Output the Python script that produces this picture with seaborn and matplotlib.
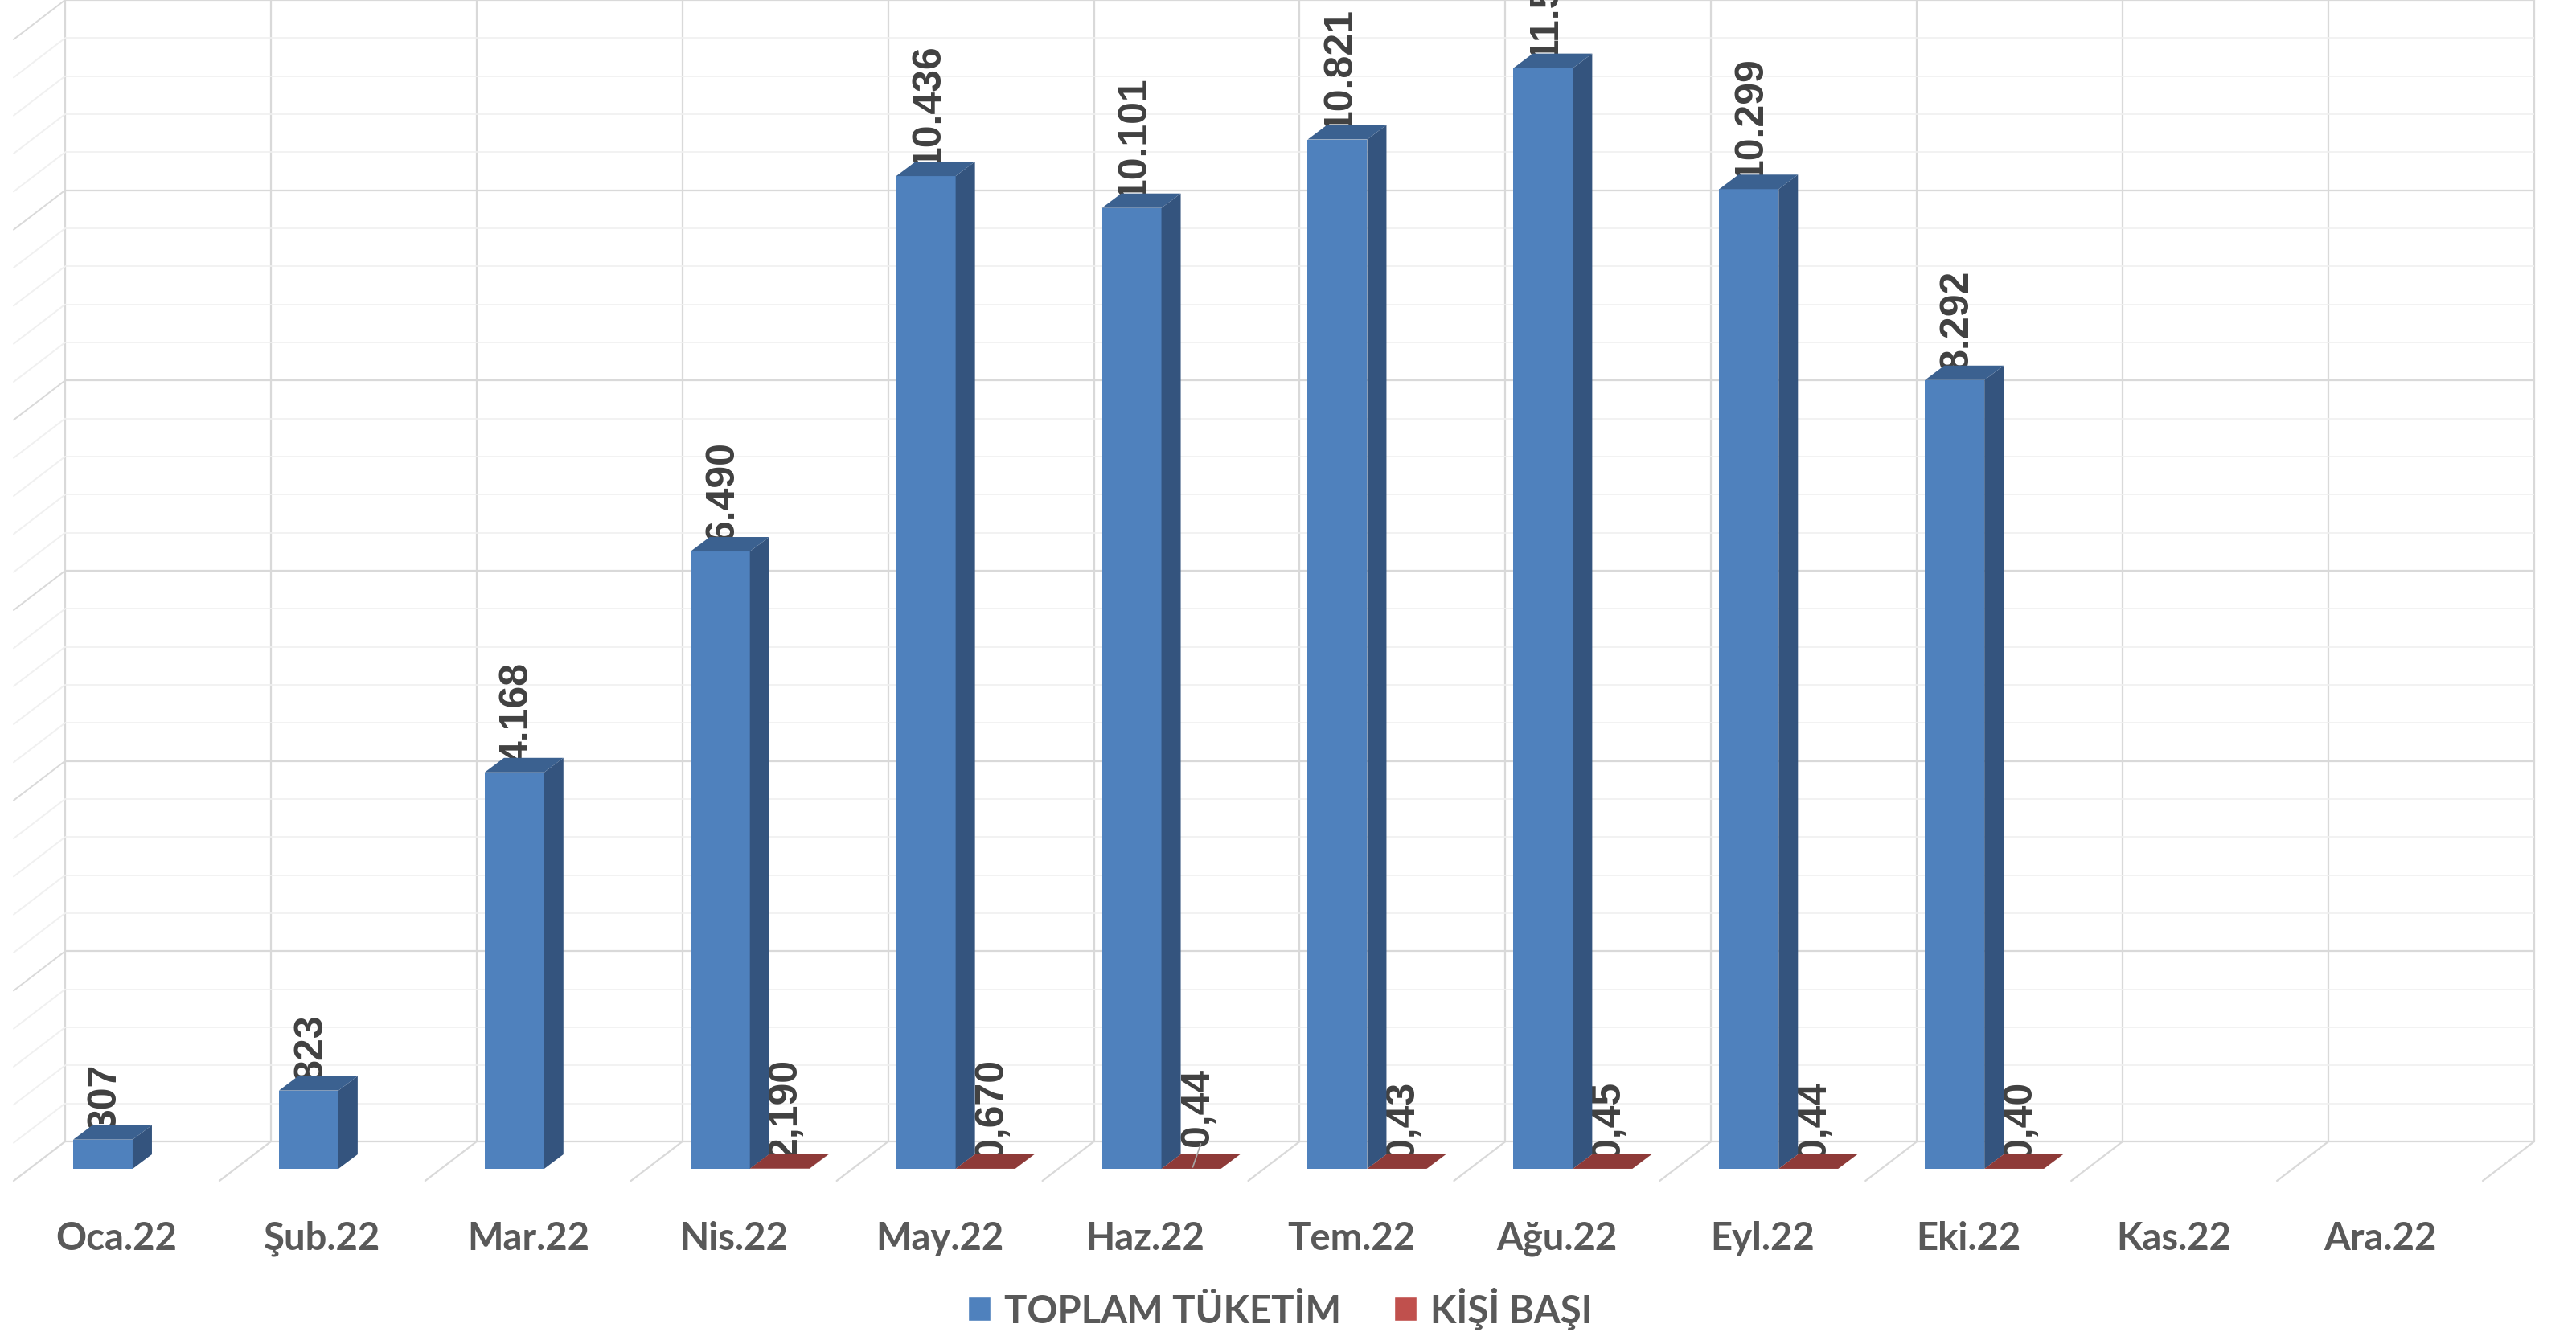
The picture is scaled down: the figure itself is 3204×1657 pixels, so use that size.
import matplotlib
matplotlib.use("Agg")
import matplotlib.pyplot as plt
from matplotlib.lines import Line2D
from matplotlib.patches import Polygon, Patch
from matplotlib.transforms import IdentityTransform, offset_copy
import seaborn as sns
import pandas as pd
import numpy as np

# === Data ===
months = ["Oca.22", "Şub.22", "Mar.22", "Nis.22", "May.22", "Haz.22",
          "Tem.22", "Ağu.22", "Eyl.22", "Eki.22", "Kas.22", "Ara.22"]
series = ["TOPLAM TÜKETİM", "KİŞİ BAŞI"]
toplam = [307, 823, 4168, 6490, 10436, 10101, 10821, 11572, 10299, 8292, np.nan, np.nan]
toplam_labels = ["307", "823", "4.168", "6.490", "10.436", "10.101",
                 "10.821", "11.572", "10.299", "8.292", "", ""]
kisi = [np.nan, np.nan, np.nan, 2.19, 0.67, 0.44, 0.43, 0.45, 0.44, 0.40, np.nan, np.nan]
kisi_labels = ["", "", "", "2,190", "0,670", "0,44", "0,43", "0,45", "0,44", "0,40", "", ""]

df = pd.DataFrame({
    "month": months * 2,
    "series": [series[0]] * 12 + [series[1]] * 12,
    "value": toplam + kisi,
}).dropna()

# === Style ===
sns.set_theme(style="white")
plt.rcParams["font.family"] = ["Lato", "DejaVu Sans"]

blue, red = "#4F81BD", "#C0504D"
side_colors = ["#34547E", "#7A2E2C"]
top_colors = ["#3B6190", "#8E3A38"]
grid_major, grid_minor = "#D9D9D9", "#F0F0F0"
W, H = 3204, 1658

fig = plt.figure(figsize=(W / 100, H / 100), dpi=100)

# === Back wall with gridlines ===
ax_back = fig.add_axes([81 / W, 237 / H, 3071 / W, 1420 / H])
ax_back.set_xlim(-0.5, 11.5)
ax_back.set_ylim(0, 12000)
ax_back.set_xticks(np.arange(-0.5, 12, 1))
ax_back.set_yticks(np.arange(0, 12001, 2000))
ax_back.set_yticks(np.arange(0, 12001, 400), minor=True)
ax_back.grid(True, which="major", color=grid_major, lw=1.6)
ax_back.grid(True, which="minor", axis="y", color=grid_minor, lw=1.2)
ax_back.tick_params(which="both", length=0, labelbottom=False, labelleft=False)
sns.despine(ax=ax_back, left=True, bottom=True)
ax_back.patch.set_visible(False)
for gl in ax_back.get_xgridlines() + ax_back.get_ygridlines():
    gl.set_clip_on(False)

# floor and side wall lines going to the front
floor_dx, floor_dy = -64, -49


def diag(x, y, color, lw):
    px, py = ax_back.transData.transform((x, y))
    ax_back.add_line(Line2D([px, px + floor_dx], [py, py + floor_dy],
                            transform=IdentityTransform(), color=color,
                            lw=lw, clip_on=False))


for k in np.arange(-0.5, 12, 1):
    diag(k, 0, grid_major, 1.6)
for v in np.arange(400, 12001, 400):
    diag(-0.5, v, grid_major if v % 2000 == 0 else grid_minor, 1.4)

# === Bars ===
ax_bar = fig.add_axes([37 / W, 203 / H, 3071 / W, 1420 / H])
ax_bar.patch.set_visible(False)
sns.barplot(data=df, x="month", y="value", hue="series", order=months,
            hue_order=series, palette=[blue, red], saturation=1,
            width=0.578, dodge=True, errorbar=None, linewidth=0,
            legend=False, ax=ax_bar)
ax_bar.set_xlim(-0.5, 11.5)
ax_bar.set_ylim(0, 12000)
ax_bar.set_xlabel("")
ax_bar.set_ylabel("")
ax_bar.set_xticks([])
ax_bar.set_yticks([])
sns.despine(ax=ax_bar, left=True, bottom=True)

# 3D side and top faces
depth_dx, depth_dy = 24, 18
for cont, sc, tc in zip(ax_bar.containers, side_colors, top_colors):
    for bar in cont:
        h = bar.get_height()
        if not np.isfinite(h):
            continue
        x0, y0 = ax_bar.transData.transform((bar.get_x(), 0))
        x1, y1 = ax_bar.transData.transform((bar.get_x() + bar.get_width(), h))
        side = Polygon([(x1, y0), (x1 + depth_dx, y0 + depth_dy),
                        (x1 + depth_dx, y1 + depth_dy), (x1, y1)],
                       closed=True, transform=IdentityTransform(),
                       facecolor=sc, lw=0, zorder=3, clip_on=False)
        top = Polygon([(x0, y1), (x1, y1), (x1 + depth_dx, y1 + depth_dy),
                       (x0 + depth_dx, y1 + depth_dy)],
                      closed=True, transform=IdentityTransform(),
                      facecolor=tc, lw=0, zorder=3, clip_on=False)
        ax_bar.add_patch(side)
        ax_bar.add_patch(top)

# value labels (drawn behind the bars, slightly hidden by the top face)
label_lift = {"Haz.22": 16}   # this one was dragged up in the original, with a leader line
for n, (cont, labels, xoff) in enumerate(zip(ax_bar.containers,
                                             [toplam_labels, kisi_labels], [3, 8])):
    for bar in cont:
        h = bar.get_height()
        if not np.isfinite(h):
            continue
        xc = bar.get_x() + bar.get_width() / 2
        i = int(round(xc))
        lift = label_lift.get(months[i], 0) if n == 1 else 0
        tr = offset_copy(ax_bar.transData, fig=fig, x=xoff, y=13 + lift, units="dots")
        ax_bar.text(xc, h, labels[i], transform=tr, rotation=90, ha="center",
                    va="bottom", fontsize=36, fontweight="bold", color="#404040",
                    family="Liberation Sans", zorder=0.5, clip_on=False)
        if lift:
            px, py = ax_bar.transData.transform((xc, h))
            ax_bar.add_line(Line2D([px + 2, px + xoff + 4], [py + 2, py + 15 + lift],
                                   transform=IdentityTransform(), color="#A6A6A6",
                                   lw=1.2, zorder=4, clip_on=False))

# month labels at the front edge of the floor
tick_tr = offset_copy(ax_bar.transData, fig=fig, x=-20, y=-100, units="dots")
for i, m in enumerate(months):
    ax_bar.text(i, 0, m, transform=tick_tr, ha="center", va="baseline",
                fontsize=34, fontweight="bold", color="#595959", clip_on=False)

# === Legend ===
handles = [Patch(facecolor=blue), Patch(facecolor=red)]
fig.legend(handles, series, loc="center", bbox_to_anchor=(1592 / W, 1 - 1628 / H),
           ncol=2, frameon=False, handlelength=0.6, handleheight=0.6,
           handletextpad=0.35, columnspacing=1.4, labelcolor="#595959",
           prop={"size": 34, "weight": "bold"})

fig.savefig("out.png", dpi=100, facecolor="white")
